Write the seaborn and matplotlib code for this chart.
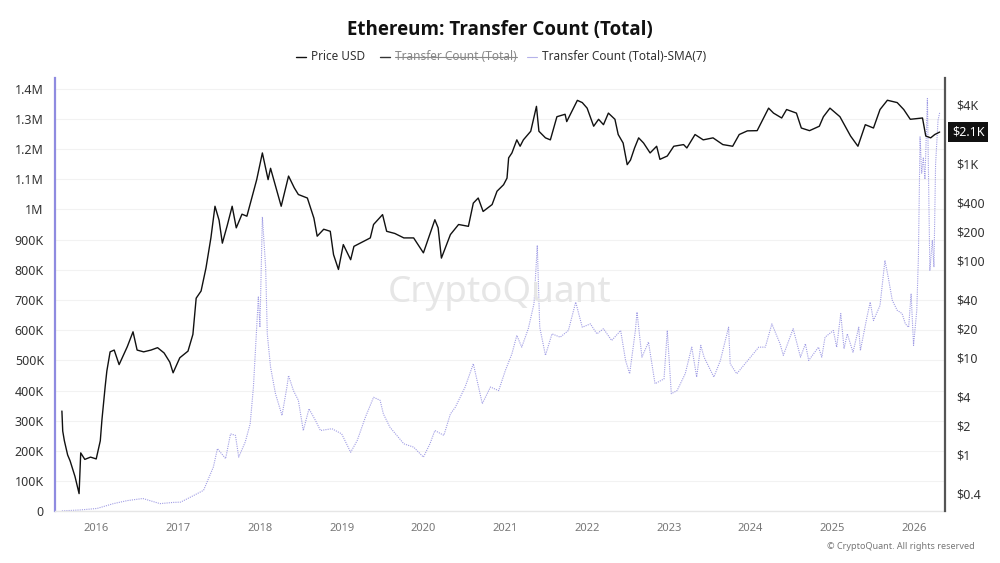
import numpy as np
import pandas as pd
import matplotlib
matplotlib.use("Agg")
import matplotlib.pyplot as plt
import matplotlib.transforms as mtransforms
from matplotlib.lines import Line2D
from matplotlib.ticker import FixedLocator, FuncFormatter, NullLocator
import seaborn as sns

# Price USD (right axis, log) - decimal year / value
price_years = [2015.58, 2015.59, 2015.61, 2015.65, 2015.68, 2015.74, 2015.79, 2015.81, 2015.86, 2015.93,
               2016.00, 2016.05, 2016.07, 2016.11, 2016.13, 2016.17, 2016.22, 2016.28, 2016.38, 2016.45,
               2016.50, 2016.58, 2016.67, 2016.75, 2016.83, 2016.90, 2016.94, 2017.02, 2017.12, 2017.18,
               2017.22, 2017.28, 2017.34, 2017.40, 2017.45, 2017.50, 2017.54, 2017.60, 2017.66, 2017.71,
               2017.78, 2017.84, 2017.90, 2017.96, 2018.03, 2018.10, 2018.13, 2018.20, 2018.26, 2018.35,
               2018.42, 2018.47, 2018.58, 2018.66, 2018.70, 2018.78, 2018.86, 2018.90, 2018.96, 2019.02,
               2019.11, 2019.15, 2019.27, 2019.35, 2019.39, 2019.50, 2019.55, 2019.65, 2019.76, 2019.88,
               2020.00, 2020.14, 2020.18, 2020.22, 2020.33, 2020.43, 2020.55, 2020.61, 2020.67, 2020.73,
               2020.84, 2020.90, 2020.98, 2021.02, 2021.04, 2021.08, 2021.14, 2021.18, 2021.22, 2021.31,
               2021.38, 2021.41, 2021.49, 2021.55, 2021.63, 2021.73, 2021.75, 2021.88, 2021.94, 2022.00,
               2022.08, 2022.14, 2022.20, 2022.26, 2022.34, 2022.38, 2022.44, 2022.49, 2022.53, 2022.58,
               2022.63, 2022.69, 2022.77, 2022.85, 2022.89, 2022.98, 2023.06, 2023.18, 2023.22, 2023.32,
               2023.42, 2023.54, 2023.66, 2023.78, 2023.86, 2023.96, 2024.08, 2024.22, 2024.28, 2024.38,
               2024.44, 2024.56, 2024.62, 2024.72, 2024.84, 2024.89, 2024.97, 2025.09, 2025.22, 2025.31,
               2025.40, 2025.50, 2025.58, 2025.67, 2025.79, 2025.87, 2025.95, 2026.10, 2026.14, 2026.20,
               2026.25, 2026.31]
price_usd = [2.83, 1.76, 1.4, 1.0, 0.87, 0.6, 0.40, 1.05, 0.9, 0.95,
             0.91, 1.4, 2.3, 5.1, 7.3, 11.5, 12.0, 8.5, 13.0, 18.5,
             12.0, 11.5, 12.0, 12.7, 11.2, 9.0, 7.0, 10.0, 11.7, 17.4,
             41, 48.6, 84, 171, 362, 260, 151, 230, 362, 217,
             300, 286, 440, 680, 1280, 680, 890, 550, 362, 740,
             560, 478, 440, 273, 178, 210, 200, 115, 81, 146,
             102, 140, 158, 171, 235, 297, 200, 190, 171, 171,
             120, 263, 217, 106, 185, 235, 225, 390, 440, 320,
             377, 517, 603, 705, 1140, 1280, 1745, 1500, 1745, 2140,
             3860, 2140, 1830, 1745, 3020, 3200, 2690, 4450, 4220, 3700,
             2410, 2840, 2500, 3290, 2840, 1980, 1620, 970, 1080, 1440,
             1830, 1620, 1280, 1500, 1100, 1190, 1500, 1560, 1440, 1980,
             1745, 1830, 1560, 1500, 1980, 2160, 2170, 3700, 3290, 2930,
             3580, 3290, 2310, 2170, 2410, 3020, 3700, 3020, 1910, 1500,
             2500, 2310, 3580, 4460, 4220, 3580, 2840, 2930, 1910, 1830,
             1980, 2100]

# Transfer Count (Total)-SMA(7) (left axis), thousands
sma_years = [2015.58, 2015.80, 2016.01, 2016.21, 2016.38, 2016.57, 2016.78, 2016.94, 2017.03, 2017.19,
             2017.31, 2017.43, 2017.48, 2017.58, 2017.64, 2017.70, 2017.74, 2017.82, 2017.88, 2017.92,
             2017.96, 2017.98, 2018.00, 2018.03, 2018.07, 2018.09, 2018.13, 2018.19, 2018.27, 2018.33,
             2018.35, 2018.41, 2018.47, 2018.53, 2018.60, 2018.68, 2018.74, 2018.88, 2019.00, 2019.11,
             2019.19, 2019.29, 2019.39, 2019.47, 2019.51, 2019.59, 2019.76, 2019.88, 2020.00, 2020.08,
             2020.14, 2020.25, 2020.33, 2020.39, 2020.51, 2020.61, 2020.72, 2020.82, 2020.92, 2021.00,
             2021.08, 2021.14, 2021.20, 2021.28, 2021.35, 2021.39, 2021.42, 2021.49, 2021.57, 2021.67,
             2021.77, 2021.86, 2021.94, 2022.04, 2022.12, 2022.20, 2022.30, 2022.41, 2022.47, 2022.52,
             2022.59, 2022.61, 2022.67, 2022.75, 2022.83, 2022.94, 2022.98, 2023.03, 2023.10, 2023.20,
             2023.28, 2023.34, 2023.39, 2023.43, 2023.55, 2023.63, 2023.73, 2023.75, 2023.83, 2024.00,
             2024.10, 2024.18, 2024.26, 2024.36, 2024.40, 2024.52, 2024.61, 2024.67, 2024.71, 2024.83,
             2024.87, 2024.91, 2025.01, 2025.05, 2025.10, 2025.14, 2025.18, 2025.25, 2025.32, 2025.34,
             2025.42, 2025.46, 2025.50, 2025.58, 2025.64, 2025.68, 2025.73, 2025.79, 2025.85, 2025.89,
             2025.93, 2025.96, 2025.99, 2026.03, 2026.05, 2026.07, 2026.09, 2026.11, 2026.13, 2026.16,
             2026.18, 2026.19, 2026.22, 2026.24, 2026.26, 2026.29, 2026.31]
sma_count_k = [2, 5, 10, 26, 36, 43, 26, 30, 31, 53,
               70, 147, 208, 175, 257, 252, 180, 230, 290, 412,
               610, 710, 610, 975, 809, 588, 478, 390, 318, 412,
               450, 400, 368, 268, 340, 301, 268, 274, 257, 196,
               235, 312, 378, 368, 323, 279, 224, 213, 180, 224,
               268, 252, 323, 345, 412, 489, 357, 412, 400, 467,
               522, 583, 544, 605, 688, 881, 610, 517, 588, 577,
               599, 693, 610, 621, 588, 605, 566, 599, 500, 456,
               599, 660, 511, 561, 423, 439, 599, 390, 400, 456,
               544, 445, 550, 511, 445, 500, 610, 489, 456, 511,
               544, 544, 621, 555, 517, 605, 511, 555, 500, 544,
               511, 577, 599, 544, 655, 539, 588, 527, 610, 533,
               643, 693, 632, 682, 831, 776, 699, 666, 655, 621,
               610, 721, 550, 666, 842, 1240, 1120, 1170, 1100, 1367,
               985, 798, 897, 809, 1150, 1295, 1320]

left_ticks = [0, 100e3, 200e3, 300e3, 400e3, 500e3, 600e3, 700e3, 800e3, 900e3,
              1e6, 1.1e6, 1.2e6, 1.3e6, 1.4e6]
right_ticks = [0.4, 1, 2, 4, 10, 20, 40, 100, 200, 400, 1000, 4000]
right_labels = ["$0.4", "$1", "$2", "$4", "$10", "$20", "$40", "$100", "$200", "$400", "$1K", "$4K"]
year_ticks = list(range(2016, 2027))


def to_dates(years):
    years = np.asarray(years, dtype=float)
    whole = np.floor(years).astype(int)
    base = pd.to_datetime(whole.astype(str), format="%Y")
    return base + pd.to_timedelta((years - whole) * 365.25, unit="D")


price_df = pd.DataFrame({"date": to_dates(price_years), "price": price_usd})
sma_df = pd.DataFrame({"date": to_dates(sma_years), "count": np.array(sma_count_k) * 1000})

sns.set_theme(style="white")
plt.rcParams["font.family"] = ["Noto Sans", "DejaVu Sans"]

fig = plt.figure(figsize=(10, 5.63), dpi=100)
ax = fig.add_axes([0.055, 0.0915, 0.89, 0.7700])
ax2 = ax.twinx()

# SMA series on the left axis
sns.lineplot(data=sma_df, x="date", y="count", ax=ax, color="#6d68d6",
             linewidth=0.8, linestyle=(0, (1, 1)), alpha=0.65)
# price on the right log axis
sns.lineplot(data=price_df, x="date", y="price", ax=ax2, color="#111111", linewidth=1.0)

ax.set_xlim(pd.Timestamp("2015-07-01"), pd.Timestamp("2026-05-18"))
ax.set_ylim(0, 1.435e6)
ax.yaxis.set_major_locator(FixedLocator(left_ticks))


def fmt_count(v, pos):
    if v == 0:
        return "0"
    if v >= 1e6:
        return f"{v / 1e6:g}M"
    return f"{v / 1e3:g}K"


ax.yaxis.set_major_formatter(FuncFormatter(fmt_count))
ax.set_xticks([pd.Timestamp(f"{y}-01-01") for y in year_ticks])
ax.set_xticklabels([str(y) for y in year_ticks])
ax.set_xlabel("")
ax.set_ylabel("")
ax.grid(axis="y", color="#f2f2f2", linewidth=0.8)
ax.tick_params(axis="y", length=0, labelsize=9, labelcolor="#333333", pad=8)
ax.tick_params(axis="x", length=0, labelsize=8, labelcolor="#777777", pad=8)

ax2.set_yscale("log")
ax2.set_ylim(0.262, 7560)
ax2.yaxis.set_major_locator(FixedLocator(right_ticks))
ax2.yaxis.set_minor_locator(NullLocator())
ax2.set_yticklabels(right_labels)
ax2.set_ylabel("")
ax2.tick_params(axis="y", length=0, labelsize=9, labelcolor="#333333", pad=8)

for s in ["top"]:
    ax.spines[s].set_visible(False)
    ax2.spines[s].set_visible(False)
ax.spines["left"].set_color("#8f8be0")
ax.spines["left"].set_linewidth(1.6)
ax.spines["bottom"].set_color("#e6e6e6")
ax.spines["bottom"].set_linewidth(1.0)
ax.spines["right"].set_visible(False)
ax2.spines["left"].set_visible(False)
ax2.spines["bottom"].set_visible(False)
ax2.spines["right"].set_color("#555555")
ax2.spines["right"].set_linewidth(1.6)

# last price tag
trans = mtransforms.blended_transform_factory(ax2.transAxes, ax2.transData)
ax2.text(1.008, price_usd[-1], "$2.1K", transform=trans, ha="left", va="center",
         fontsize=9, color="white",
         bbox=dict(boxstyle="square,pad=0.3", fc="#111111", ec="none"))

# watermark
fig.text(0.5, 0.48, "CryptoQuant", ha="center", va="center", fontsize=26.5,
         color="#e6e6e6", zorder=0)

fig.text(0.5, 0.947, "Ethereum: Transfer Count (Total)", ha="center", va="center",
         fontsize=13.5, fontweight="bold", color="#111111",
         family=["Open Sans", "DejaVu Sans"])

# legend drawn by hand, the hidden series is struck through
leg_y = 0.899
items = [(0.296, "Price USD", "#111111", "#333333", 1.0),
         (0.380, "Transfer Count (Total)", "#333333", "#888888", 1.0),
         (0.527, "Transfer Count (Total)-SMA(7)", "#b5b2ea", "#333333", 0.8)]
fig.canvas.draw()
renderer = fig.canvas.get_renderer()
for i, (x0, label, lcol, tcol, lw) in enumerate(items):
    fig.add_artist(Line2D([x0, x0 + 0.010], [leg_y, leg_y], color=lcol, linewidth=lw,
                          transform=fig.transFigure))
    t = fig.text(x0 + 0.015, leg_y, label, ha="left", va="center", fontsize=8.5, color=tcol)
    if i == 1:
        bb = t.get_window_extent(renderer).transformed(fig.transFigure.inverted())
        fig.add_artist(Line2D([bb.x0, bb.x1], [leg_y, leg_y], color="#888888", linewidth=0.8,
                              transform=fig.transFigure))

fig.text(0.975, 0.030, "\u00a9 CryptoQuant. All rights reserved", ha="right", va="center",
         fontsize=6.5, color="#777777")

fig.savefig("out.png", dpi=100)
